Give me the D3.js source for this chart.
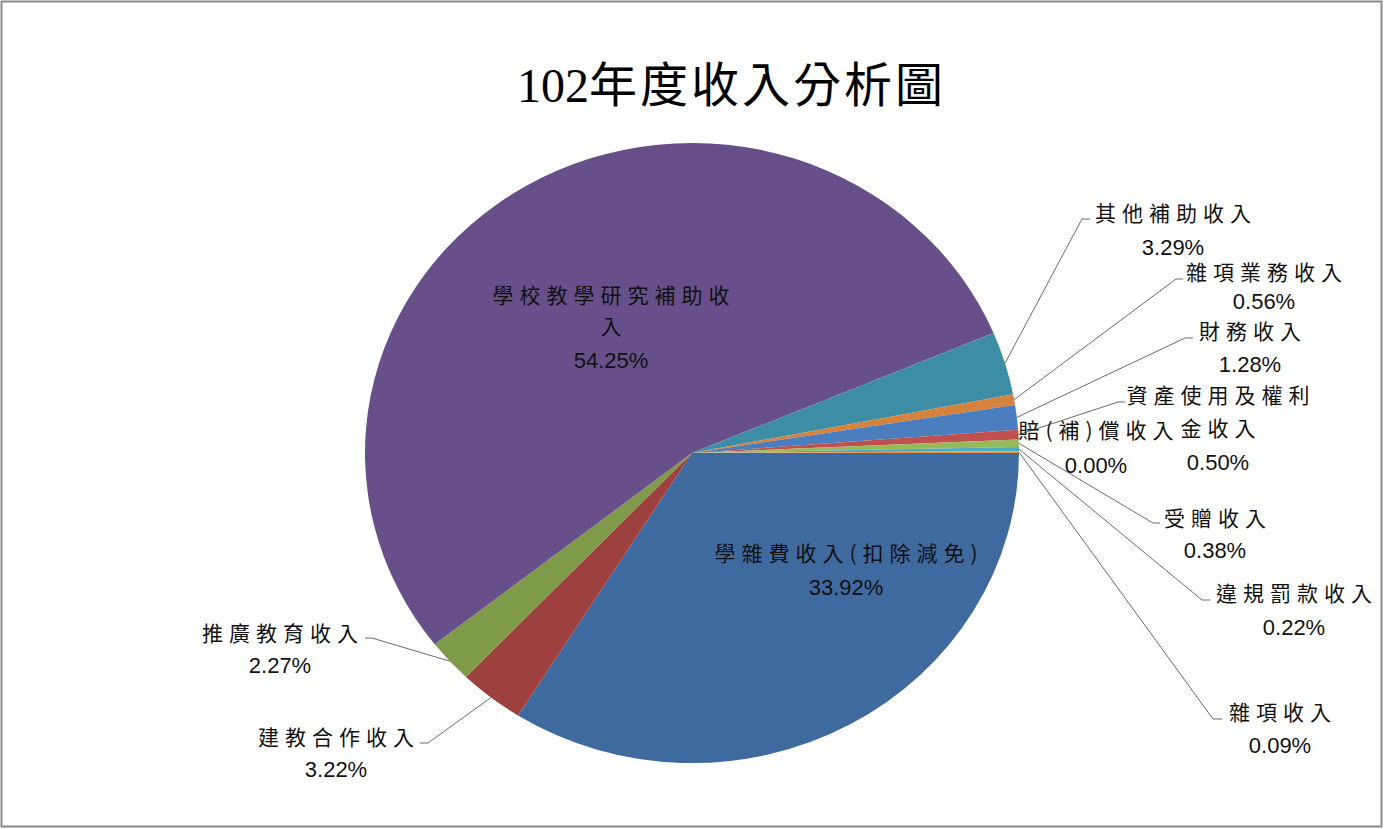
<!DOCTYPE html>
<html><head><meta charset="utf-8">
<script src="https://cdn.jsdelivr.net/npm/d3@7"></script>
<style>body{margin:0;background:#fff} svg{display:block}</style>
</head><body><svg id="c" width="1384" height="829"></svg>
<script>
// ---- data ----
const titleNum = "102";
const titleText = "年度收入分析圖";
const categories = ["學雜費收入(扣除減免)","建教合作收入","推廣教育收入","學校教學研究補助收入","其他補助收入","雜項業務收入","財務收入","資產使用及權利金收入","賠(補)償收入","受贈收入","違規罰款收入","雜項收入"];
const values = [33.92,3.22,2.27,54.25,3.29,0.56,1.28,0.50,0.00,0.38,0.22,0.09];

// ---- style / layout ----
const colors = ["#3F6AA0","#9E413E","#7F9A48","#67508A","#3D8DA5","#D7823C","#4A7EBF","#C0504D","#9BBB59","#97B957","#4BACC6","#F0913F"];
const layout = [
  {x:846, y:561, py:595, wrap:0, inside:true},
  {x:336, y:745, py:777, wrap:0, knee:[428,743], stub:420},
  {x:280, y:641, py:673, wrap:0, knee:[372,638], stub:365},
  {x:611, y:303, py:368, wrap:9, lh:31, inside:true},
  {x:1173, y:221, py:255, wrap:0, knee:[1082,219], stub:1090},
  {x:1264, y:280, py:309, wrap:0, knee:[1176,279], stub:1183},
  {x:1250, y:339, py:372, wrap:0, knee:[1185,338], stub:1193},
  {x:1218, y:403, py:470, wrap:7, lh:33, knee:[1118,402], stub:1125},
  {x:1096, y:438, py:473, wrap:0, knee:[1021,437], stub:1021},
  {x:1215, y:526, py:558, wrap:0, knee:[1153,523], stub:1160},
  {x:1294, y:601, py:635, wrap:0, knee:[1202,600], stub:1210},
  {x:1280, y:720, py:753, wrap:0, knee:[1213,719], stub:1222}
];
const cx = 692, cy = 453, rx = 327, ry = 310;
const cjkFont = "'Noto Sans CJK TC','Noto Sans CJK SC',sans-serif";
const numFont = "'Liberation Sans',Arial,sans-serif";
const ls = 6, fs = 21;

const svg = d3.select("#c");
svg.append("rect").attr("x",1.5).attr("y",1.5).attr("width",1380).attr("height",825)
  .attr("fill","#fff").attr("stroke","#8a8a8a").attr("stroke-width",2);

// title
const t = svg.append("text").attr("x",731.5).attr("y",102).attr("text-anchor","middle")
  .attr("font-size",48).attr("fill","#000");
t.append("tspan").attr("font-family","'Liberation Serif','DejaVu Serif',serif").text(titleNum);
t.append("tspan").attr("font-family",cjkFont).attr("letter-spacing",3).text(titleText);

// pie
const pie = d3.pie().sort(null).value(d => d).startAngle(Math.PI/2).endAngle(Math.PI/2 + 2*Math.PI);
const arcs = pie(values);
const arc = d3.arc().innerRadius(0).outerRadius(rx);
const g = svg.append("g").attr("transform", `translate(${cx},${cy}) scale(1,${ry/rx})`);
g.selectAll("path").data(arcs).join("path")
  .attr("d", arc).attr("fill", (d,i) => colors[i]);

const fmt = d3.format(".2f");
// leaders
const lg = svg.append("g").attr("fill","none").attr("stroke","#6a6a6a").attr("stroke-width",1);
arcs.forEach((a,i) => {
  const L = layout[i];
  if (L.inside) return;
  const m = (a.startAngle + a.endAngle)/2;
  const ex = cx + rx*Math.sin(m), ey = cy - ry*Math.cos(m);
  const pts = [[ex,ey], L.knee, [L.stub, L.knee[1]]];
  lg.append("path").attr("d", d3.line()(pts));
});

// labels
const tg = svg.append("g").attr("fill","#111");
arcs.forEach((a,i) => {
  const L = layout[i];
  const name = categories[i];
  const lines = L.wrap ? [name.slice(0,L.wrap), name.slice(L.wrap)] : [name];
  lines.forEach((s,k) => {
    tg.append("text").attr("x", L.x + ls/2).attr("y", L.y + k*(L.lh||0))
      .attr("text-anchor","middle").attr("font-family",cjkFont).attr("font-size",fs)
      .attr("letter-spacing",ls).text(s);
  });
  tg.append("text").attr("x", L.x).attr("y", L.py).attr("text-anchor","middle")
    .attr("font-family",numFont).attr("font-size",22).text(fmt(values[i]) + "%");
});
</script></body></html>
